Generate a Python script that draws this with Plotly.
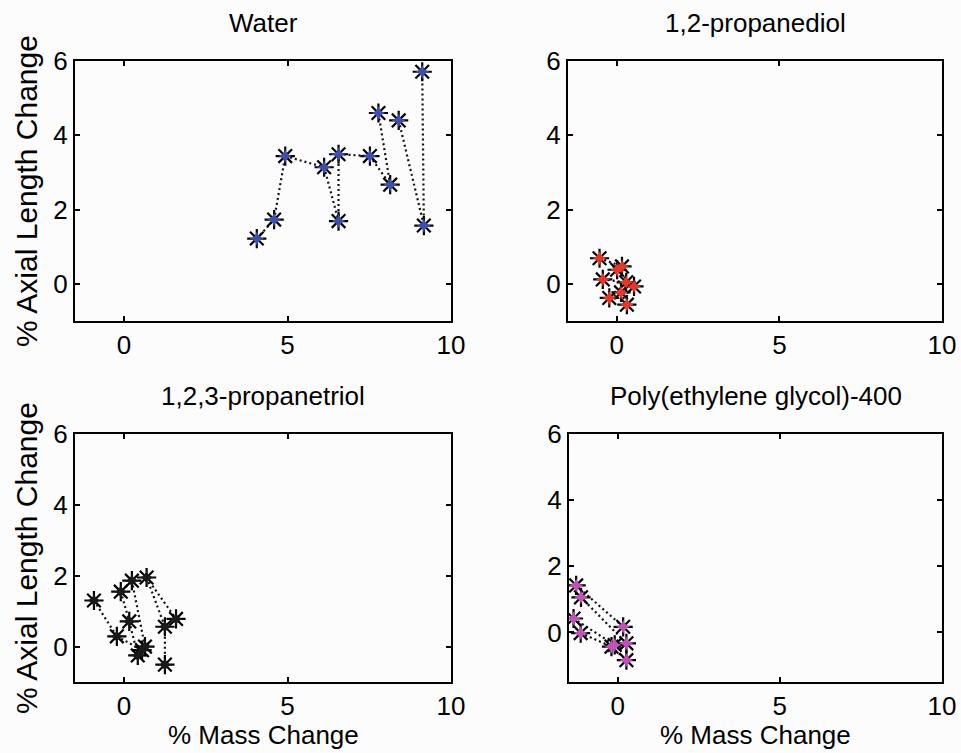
import plotly.graph_objects as go

# ---------------- data ----------------
titles = ["Water", "1,2-propanediol", "1,2,3-propanetriol", "Poly(ethylene glycol)-400"]
y_label = "% Axial Length Change"
x_label = "% Mass Change"

water_x = [4.06, 4.59, 4.93, 6.12, 6.56, 6.56, 7.52, 7.78, 8.14, 8.40, 9.12, 9.17]
water_y = [1.22, 1.73, 3.44, 3.14, 3.49, 1.69, 3.44, 4.60, 2.67, 4.40, 5.71, 1.57]
water_seg = [(0, 1), (1, 2), (2, 3), (3, 5), (5, 4), (4, 6), (6, 8), (8, 7), (9, 11), (11, 10)]

pdiol_x = [-0.53, 0.01, 0.16, -0.43, 0.29, 0.53, 0.13, -0.23, 0.31]
pdiol_y = [0.69, 0.38, 0.47, 0.12, 0.04, -0.07, -0.23, -0.38, -0.56]
pdiol_seg = [(0, 2), (3, 4), (7, 6), (1, 5), (6, 8)]

ptriol_x = [-0.92, -0.10, 0.24, 0.69, 0.16, -0.22, 0.42, 0.64, 0.55, 1.25, 1.59, 1.25]
ptriol_y = [1.30, 1.55, 1.86, 1.95, 0.71, 0.29, -0.25, 0.00, -0.10, 0.56, 0.78, -0.51]
ptriol_seg = [(0, 5), (1, 4), (4, 6), (2, 7), (3, 9), (9, 11), (3, 10), (5, 8)]

peg_x = [-1.28, -1.13, -1.36, -1.14, 0.17, -0.09, 0.27, -0.19, 0.27]
peg_y = [1.42, 1.06, 0.42, -0.02, 0.17, -0.38, -0.33, -0.43, -0.84]
peg_seg = [(0, 4), (1, 6), (2, 5), (3, 7), (7, 8)]

x_ticks = [0, 5, 10]
y_ticks = [0, 2, 4, 6]
x_range = [-1.5, 10]
y_ranges = [[-1, 6], [-1, 6], [-1, 6], [-1.5, 6]]

colors = ["#3d4fb0", "#ee3424", "#1a1a1a", "#c64fbc"]

# ---------------- figure ----------------
W, H = 961, 753
panels = [
    (water_x, water_y, water_seg),
    (pdiol_x, pdiol_y, pdiol_seg),
    (ptriol_x, ptriol_y, ptriol_seg),
    (peg_x, peg_y, peg_seg),
]
# pixel boxes (left, right, top, bottom)
boxes = [(75, 451, 61, 321), (568, 942, 61, 321), (75, 451, 434, 682), (569, 942, 434, 682)]

FONT = "Liberation Sans, Arial, sans-serif"
fig = go.Figure()
layout = dict(
    width=W, height=H, margin=dict(l=0, r=0, t=0, b=0, autoexpand=False),
    paper_bgcolor="#fcfcfd", plot_bgcolor="#fcfcfd",
    showlegend=False, font=dict(family=FONT, color="black"),
)
annotations = []
for i, ((xs, ys, seg), (l, r, t, b)) in enumerate(zip(panels, boxes)):
    n = i + 1
    xa = "x" if n == 1 else f"x{n}"
    ya = "y" if n == 1 else f"y{n}"
    lx, ly = [], []
    for a, c in seg:
        lx += [xs[a], xs[c], None]
        ly += [ys[a], ys[c], None]
    fig.add_trace(go.Scatter(x=lx, y=ly, mode="lines", xaxis=xa, yaxis=ya,
                             line=dict(color="#111111", width=2.2, dash="2px,3px"), hoverinfo="skip"))
    fig.add_trace(go.Scatter(x=xs, y=ys, mode="markers", xaxis=xa, yaxis=ya,
                             marker=dict(symbol="asterisk-open", size=16, color="black",
                                         line=dict(color="black", width=2.2))))
    fig.add_trace(go.Scatter(x=xs, y=ys, mode="markers", xaxis=xa, yaxis=ya,
                             marker=dict(symbol="star-diamond", size=10, color=colors[i],
                                         line=dict(width=0))))
    common = dict(showgrid=False, zeroline=False, showline=True, linecolor="black", linewidth=2,
                  mirror="ticks", ticks="inside", ticklen=5, tickwidth=1.5, tickcolor="black",
                  automargin=False,
                  tickfont=dict(size=26, family=FONT, color="black"))
    xkey = "xaxis" if n == 1 else f"xaxis{n}"
    ykey = "yaxis" if n == 1 else f"yaxis{n}"
    layout[xkey] = dict(common, domain=[l / W, r / W], anchor=ya, range=x_range,
                        tickvals=x_ticks, ticktext=[str(v) for v in x_ticks])
    layout[ykey] = dict(common, domain=[1 - b / H, 1 - t / H], anchor=xa, range=y_ranges[i],
                        tickvals=y_ticks, ticktext=[str(v) for v in y_ticks])
    # panel title
    annotations.append(dict(text=titles[i], x=(l + r) / 2 / W, y=1 - (t - 38) / H,
                            xref="paper", yref="paper", showarrow=False,
                            xanchor="center", yanchor="middle",
                            font=dict(size=26, family=FONT, color="black")))
    if n in (1, 3):
        annotations.append(dict(text=y_label, x=26 / W, y=1 - (t + b) / 2 / H,
                                xref="paper", yref="paper", showarrow=False, textangle=-90,
                                xanchor="center", yanchor="middle",
                                font=dict(size=30, family=FONT, color="black")))
    if n in (3, 4):
        annotations.append(dict(text=x_label, x=(l + r) / 2 / W, y=1 - 735 / H,
                                xref="paper", yref="paper", showarrow=False,
                                xanchor="center", yanchor="middle",
                                font=dict(size=26, family=FONT, color="black")))
layout["annotations"] = annotations
fig.update_layout(**layout)
fig.write_html("out.html")
